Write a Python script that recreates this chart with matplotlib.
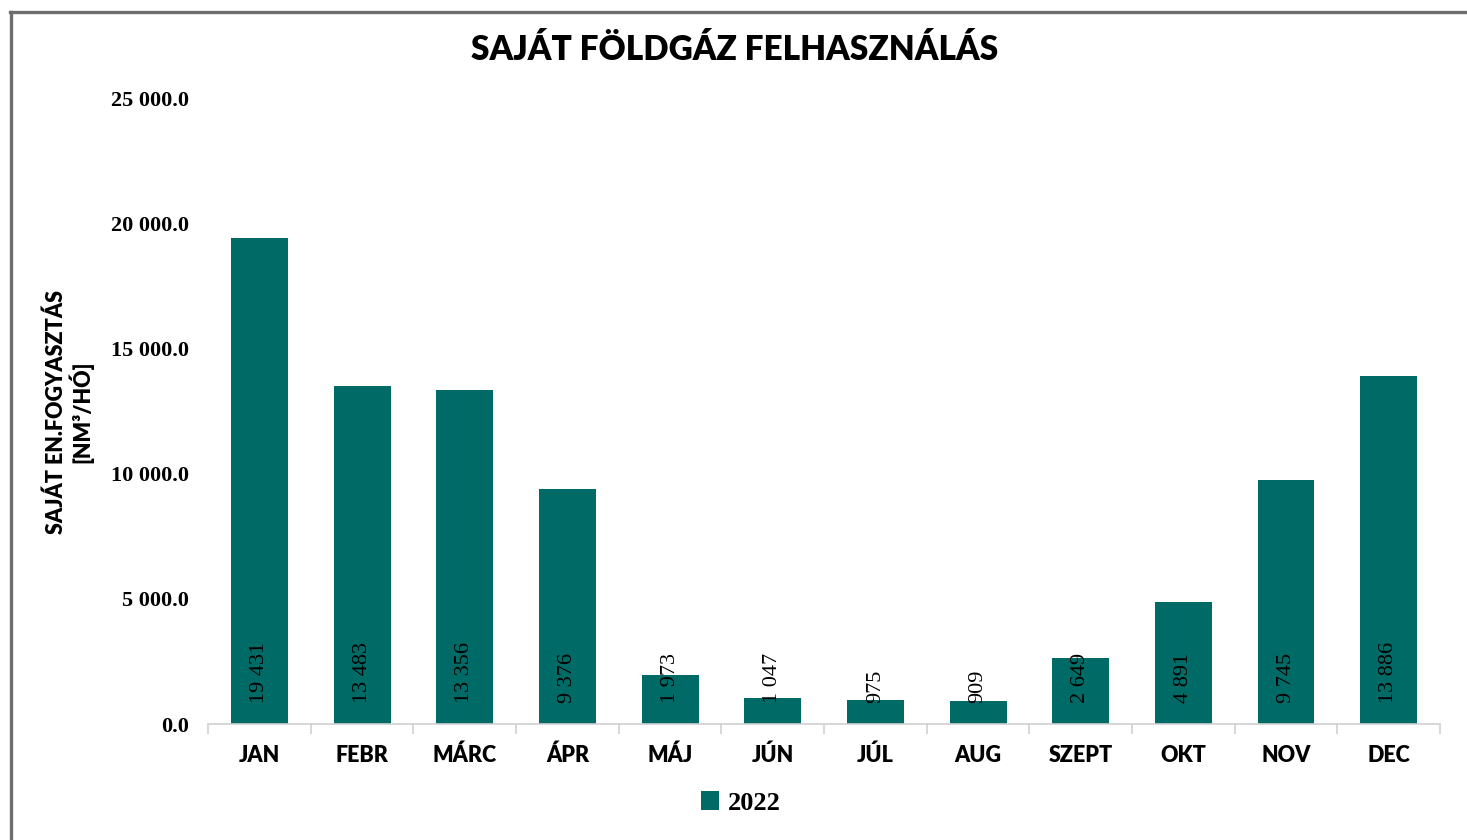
import numpy as np
import matplotlib.pyplot as plt
from matplotlib.lines import Line2D
from matplotlib.ticker import FuncFormatter, FixedLocator

months = ["JAN", "FEBR", "MÁRC", "ÁPR", "MÁJ", "JÚN", "JÚL", "AUG", "SZEPT", "OKT", "NOV", "DEC"]
values_2022 = [19431, 13483, 13356, 9376, 1973, 1047, 975, 909, 2649, 4891, 9745, 13886]
series_name = "2022"
title = "SAJÁT FÖLDGÁZ FELHASZNÁLÁS"
ylabel = "SAJÁT EN.FOGYASZTÁS\n[NM³/HÓ]"

barColor = "#006B66"
sansFont = ["Lato", "DejaVu Sans"]
serifFont = ["Liberation Serif", "DejaVu Serif"]

fig = plt.figure(figsize=(14.67, 8.4), dpi=100)
ax = fig.add_axes([0.1418, 0.138, 0.8398, 0.7452])

x = np.arange(len(months))
bars = ax.bar(x, values_2022, width=0.555, color=barColor, label=series_name, zorder=2)

# data labels, rotated, sitting at the bottom of each bar
for xi, v in zip(x, values_2022):
    ax.annotate(f"{v:,}".replace(",", " "), xy=(xi, 0), xytext=(0, 21),
                textcoords="offset pixels", rotation=90, ha="center", va="bottom",
                fontsize=16, family=serifFont, color="black", zorder=3)

ax.set_xlim(-0.5, len(months) - 0.5)
ax.set_ylim(0, 25000)
ax.set_yticks(np.arange(0, 25001, 5000))
ax.yaxis.set_major_formatter(FuncFormatter(lambda v, p: f"{v:,.1f}".replace(",", " ")))
for lbl in ax.get_yticklabels():
    lbl.set_family(serifFont)
    lbl.set_fontweight("bold")
    lbl.set_fontsize(16)
ax.tick_params(axis="y", length=0, pad=14)

ax.set_xticks(x)
ax.set_xticklabels(months, family=sansFont, fontweight="heavy", fontsize=15.5)
ax.xaxis.set_minor_locator(FixedLocator(np.arange(-0.5, len(months), 1.0)))
ax.tick_params(axis="x", which="major", length=0, pad=15)
ax.tick_params(axis="x", which="minor", length=7, width=1.2, color="#D0D0D0")

for s in ["top", "right", "left"]:
    ax.spines[s].set_visible(False)
ax.spines["bottom"].set_color("#D0D0D0")
ax.spines["bottom"].set_linewidth(1.2)

fig.text(0.501, 0.94, title, ha="center", va="center", family=sansFont,
         fontweight="heavy", fontsize=24)
fig.text(0.0475, 0.51, ylabel, ha="center", va="center", rotation=90,
         family=sansFont, fontweight="heavy", fontsize=15.5, linespacing=1.05)

leg = fig.legend(handles=[bars], labels=[series_name], loc="center",
                 bbox_to_anchor=(0.505, 0.044), frameon=False, handlelength=0.7,
                 handleheight=0.7, handletextpad=0.35,
                 prop={"family": serifFont, "weight": "bold", "size": 19})

# grey frame remains on top and left
fig.add_artist(Line2D([10 / 1467, 1.0], [1 - 12 / 840, 1 - 12 / 840],
                      transform=fig.transFigure, color="#6E6E6E", linewidth=2.4))
fig.add_artist(Line2D([11 / 1467, 11 / 1467], [0, 1 - 12 / 840],
                      transform=fig.transFigure, color="#6E6E6E", linewidth=2.4))

fig.savefig("out.png", dpi=100, facecolor="white")
